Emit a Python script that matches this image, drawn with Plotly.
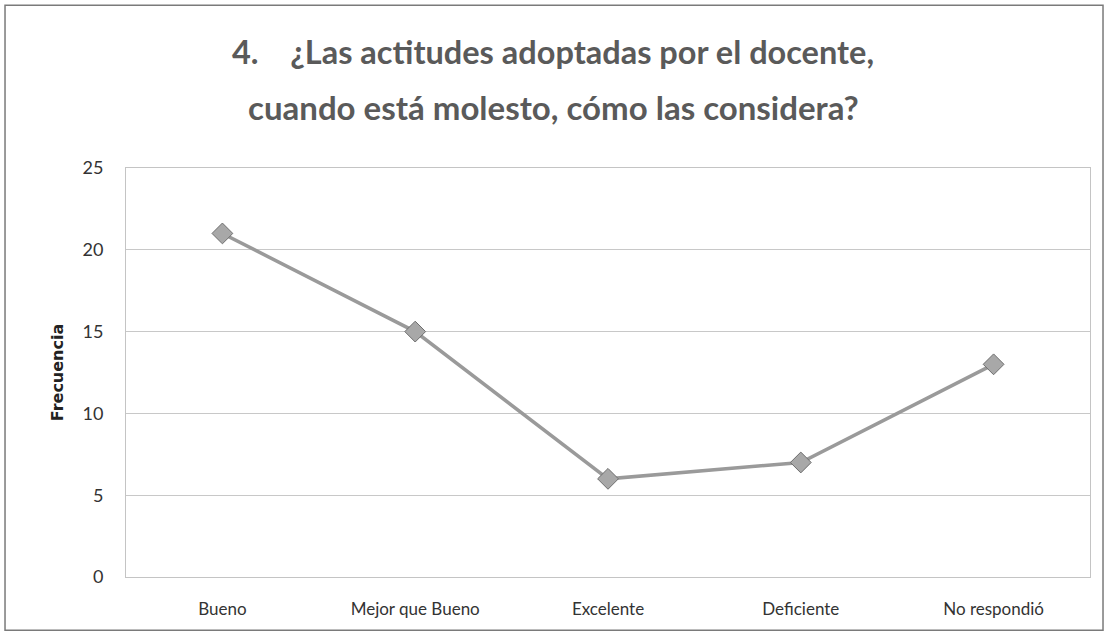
import plotly.graph_objects as go

# Encuesta: pregunta 4
categorias = ["Bueno", "Mejor que Bueno", "Excelente", "Deficiente", "No respondió"]
frecuencia = [21, 15, 6, 7, 13]

titulo_l1 = "4.    ¿Las actitudes adoptadas por el docente,"
titulo_l2 = "cuando está molesto, cómo las considera?"

fuente = "Lato, Open Sans, sans-serif"

fig = go.Figure()
fig.add_trace(go.Scatter(
    x=categorias,
    y=frecuencia,
    mode="lines+markers",
    line=dict(color="#9a9a9a", width=3.5),
    marker=dict(symbol="diamond", size=16, color="#a8a8a8",
                line=dict(color="#6e6e6e", width=1)),
    showlegend=False
))

fig.update_layout(
    width=1107,
    height=640,
    paper_bgcolor="white",
    plot_bgcolor="white",
    margin=dict(l=126, r=17, t=168, b=63, autoexpand=False),
    font=dict(family=fuente, size=17, color="#333333"),
    xaxis=dict(
        type="category",
        range=[-0.5, 4.5],
        showgrid=False,
        showline=True, linecolor="#c4c4c4", linewidth=1,
        mirror=True,
        ticks="",
        ticklabelstandoff=17,
        tickfont=dict(size=17, color="#333333"),
        automargin=False
    ),
    yaxis=dict(
        range=[0, 25],
        dtick=5,
        showgrid=True, gridcolor="#c8c8c8", gridwidth=1,
        showline=True, linecolor="#c4c4c4", linewidth=1,
        mirror=True,
        zeroline=False,
        ticks="",
        ticklabelstandoff=18,
        tickfont=dict(size=18, color="#333333"),
        automargin=False,
        title=dict(text="<b>Frecuencia</b>", standoff=14,
                   font=dict(family="DejaVu Sans, sans-serif", size=16, color="#222222"))
    ),
    annotations=[
        dict(text="<b>" + titulo_l1 + "</b>", xref="paper", yref="paper",
             x=0.443, y=1.285, xanchor="center", yanchor="middle", showarrow=False,
             font=dict(family=fuente, size=32.5, color="#5a5a5a")),
        dict(text="<b>" + titulo_l2 + "</b>", xref="paper", yref="paper",
             x=0.443, y=1.15, xanchor="center", yanchor="middle", showarrow=False,
             font=dict(family=fuente, size=33, color="#5a5a5a")),
    ],
    shapes=[dict(
        type="rect", xref="paper", yref="paper",
        x0=-0.1255, x1=1.0135, y0=-0.13, y1=1.398,
        line=dict(color="#7a7a7a", width=1.5)
    )]
)

fig.write_html("out.html", config={"displayModeBar": False},
               post_script="document.body.style.margin='0';")
